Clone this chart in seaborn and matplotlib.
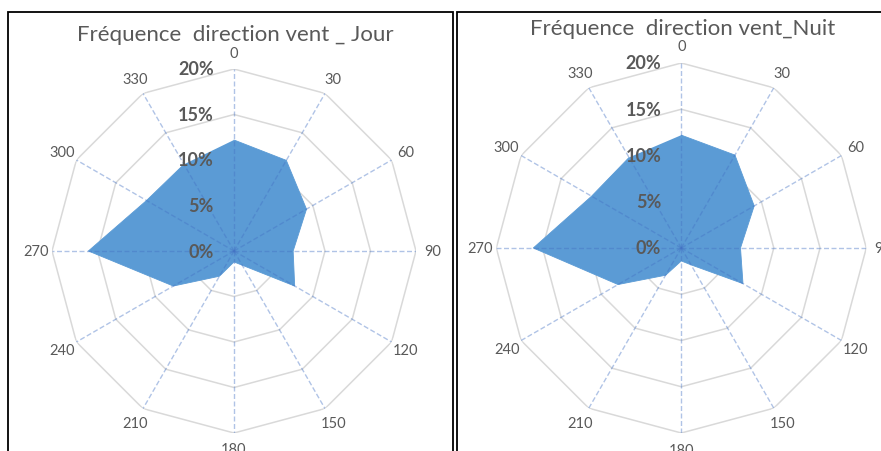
import numpy as np
import matplotlib
matplotlib.use("Agg")
import matplotlib.pyplot as plt
import matplotlib.transforms as mtransforms
from matplotlib.patches import Rectangle
import seaborn as sns

# Wind direction sectors (degrees) and frequency (%) per sector
directions = [0, 30, 60, 90, 120, 150, 180, 210, 240, 270, 300, 330]
freq_jour = [12.2, 11.5, 9.2, 6.5, 7.7, 1.8, 1.2, 3.2, 7.7, 16.0, 11.1, 11.0]
freq_nuit = [12.2, 11.6, 9.1, 6.4, 7.7, 2.1, 1.4, 3.4, 7.9, 16.0, 11.2, 11.3]
radial_ticks = [0, 5, 10, 15, 20]
radial_labels = ["0%", "5%", "10%", "15%", "20%"]
titles = ["Fréquence  direction vent _ Jour", "Fréquence  direction vent_Nuit"]

sns.set_theme(style="white")
plt.rcParams["font.family"] = ["Lato", "DejaVu Sans"]

W, H = 881, 452
fig = plt.figure(figsize=(W / 100, H / 100), dpi=100)
fig.patch.set_facecolor("white")

TEXT = "#595959"
RING = "#d9d9d9"
FILL = "#5b9bd5"
SPOKE = "#4472c4"


def rect_for(cx, cy, R):
    return [(cx - R) / W, (H - cy - R) / H, 2 * R / W, 2 * R / H]


def radar(cx, cy, R, values, title, title_xy):
    ax = fig.add_axes(rect_for(cx, cy, R), projection="polar")
    ax.set_theta_zero_location("N")
    ax.set_theta_direction(-1)
    ax.set_ylim(0, radial_ticks[-1])
    ax.grid(False)
    ax.set_xticks([])
    ax.set_yticks([])
    ax.spines["polar"].set_visible(False)
    ax.patch.set_alpha(0)

    theta = np.deg2rad(directions)
    theta_c = np.append(theta, theta[0])
    vals_c = np.append(values, values[0])

    # polygon rings
    for r in radial_ticks[1:]:
        ax.plot(theta_c, np.full(theta_c.shape, r), color=RING, lw=1.1, zorder=1)

    # filled area
    ax.fill(theta_c, vals_c, color=FILL, lw=0, zorder=2)
    sns.lineplot(x=theta_c, y=vals_c, sort=False, ax=ax, color=FILL, lw=0.6, zorder=2)
    ax.set_xlabel("")
    ax.set_ylabel("")

    # dashed spokes
    for th in theta:
        ax.plot([th, th], [0, radial_ticks[-1]], color=SPOKE, alpha=0.42, lw=1.0,
                dashes=(3.6, 1.8), zorder=3)

    # direction labels
    for th, d in zip(theta, directions):
        ax.text(th, 21.8, str(d), ha="center", va="center", fontsize=10.5,
                color=TEXT, clip_on=False)

    # radial labels left of the north spoke
    off = mtransforms.offset_copy(ax.transData, fig=fig, x=-20, y=0, units="dots")
    for r, lab in zip(radial_ticks, radial_labels):
        ax.text(0, r, lab, transform=off, ha="right", va="center", fontsize=13,
                fontweight="bold", color=TEXT, zorder=4, clip_on=False)

    fig.text(title_xy[0] / W, 1 - title_xy[1] / H, title, ha="center", va="center",
             fontsize=16, color=TEXT)
    return ax


radar(234, 252, 182, freq_jour, titles[0], (235.5, 35))
radar(681.3, 249, 185, freq_nuit, titles[1], (683, 29))

# chart borders
for x0, x1 in [(8.3, 453.3), (456.7, 900)]:
    fig.patches.append(Rectangle((x0 / W, -0.1), (x1 - x0) / W, 1.1 - 13.3 / H,
                                 transform=fig.transFigure, fill=False,
                                 edgecolor="black", lw=1.3, zorder=10))

fig.savefig("out.png", dpi=100)
